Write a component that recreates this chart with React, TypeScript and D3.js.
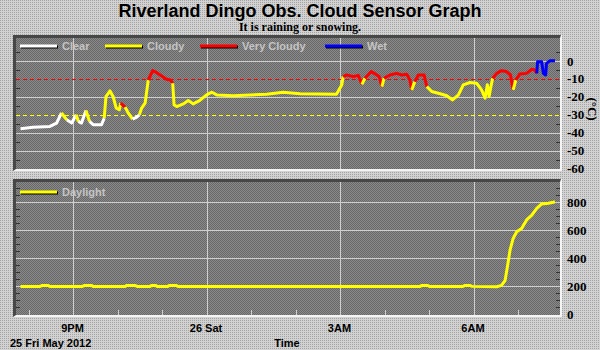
import React from 'react';
import * as d3 from 'd3';

// ---- Data (hours since 25 May 2012 00:00) ----
const skyTimes = [
  19.81, 20.09, 20.47, 20.62, 20.73, 20.85, 20.96, 21.06, 21.11, 21.18, 21.28, 21.36, 21.44, 21.63,
  21.69, 21.73, 21.82, 21.89, 21.96, 22.03, 22.06, 22.16, 22.23, 22.33, 22.42, 22.48, 22.53, 22.61,
  22.64, 22.68, 22.78, 22.87, 22.98, 23.09, 23.18, 23.23, 23.26, 23.32, 23.47, 23.58, 23.69, 23.84,
  23.99, 24.11, 24.22, 24.59, 24.97, 25.34, 25.71, 26.09, 26.91, 27.03, 27.06, 27.14, 27.29, 27.40,
  27.48, 27.55, 27.69, 27.78, 27.87, 27.93, 27.98, 28.11, 28.26, 28.38, 28.49, 28.56, 28.60, 28.67,
  28.75, 28.88, 28.94, 29.05, 29.24, 29.39, 29.52, 29.65, 29.76, 29.91, 30.06, 30.17, 30.25, 30.30,
  30.34, 30.38, 30.42, 30.51, 30.62, 30.73, 30.82, 30.88, 30.94, 31.03, 31.18, 31.30, 31.37, 31.41,
  31.43, 31.52, 31.56, 31.61, 31.63, 31.71, 31.82,
];
const skyTemps = [
  -37.8, -37, -36.5, -34.6, -29, -32.8, -34.6, -30, -33.7, -34.6, -27.6, -33.7, -35.5, -35.5,
  -31.9, -19.8, -16.7, -19.8, -26.3, -27.2, -23.5, -25.7, -29, -32.4, -31.3, -30, -26.3, -23.5,
  -17.9, -10.6, -5.4, -6.5, -8.3, -10.2, -10.6, -12.4, -24.4, -25.4, -23.9, -22, -23.9, -22,
  -18.9, -17.4, -18.9, -19.4, -18.9, -18.5, -17.4, -18.3, -18.5, -13.3, -8.7, -7.8, -8.7, -8,
  -13, -9.6, -5.9, -7.2, -8.7, -14.3, -9.6, -7.8, -6.9, -7.8, -7.4, -10.6, -16.1, -11.5,
  -7.8, -7.8, -14.3, -17, -18.3, -19.4, -21.7, -18.9, -13.3, -12, -12.4, -16.1, -20.7, -13.3,
  -19.8, -14.3, -9.6, -6.9, -5.4, -5.9, -7.8, -16.1, -10.6, -7.2, -6.9, -4.6, -5, -6.9,
  -0.4, -0.4, -6.9, -7.8, -1.3, 0.2, 0.2,
];
// C = Clear, Y = Cloudy, R = Very Cloudy, W = Wet
const skyStates = [
  'C', 'C', 'C', 'C', 'Y', 'C', 'C', 'Y', 'C', 'C', 'Y', 'C', 'C', 'C',
  'Y', 'Y', 'Y', 'Y', 'Y', 'Y', 'R', 'Y', 'Y', 'C', 'C', 'Y', 'Y', 'Y',
  'Y', 'R', 'R', 'R', 'R', 'R', 'R', 'Y', 'Y', 'Y', 'Y', 'Y', 'Y', 'Y',
  'Y', 'Y', 'Y', 'Y', 'Y', 'Y', 'Y', 'Y', 'Y', 'Y', 'R', 'R', 'R', 'R',
  'Y', 'R', 'R', 'R', 'R', 'Y', 'R', 'R', 'R', 'R', 'R', 'R', 'Y', 'R',
  'R', 'R', 'Y', 'Y', 'Y', 'Y', 'Y', 'Y', 'Y', 'Y', 'Y', 'Y', 'Y', 'Y',
  'Y', 'Y', 'R', 'R', 'R', 'R', 'R', 'Y', 'R', 'R', 'R', 'R', 'R', 'W',
  'W', 'W', 'W', 'W', 'W', 'W', 'W',
];

const dayTimes = [
  19.81, 20.25, 20.3, 20.42, 20.47, 21.2, 21.25, 21.4, 21.44, 22.16, 22.2, 22.38, 22.43,
  22.72, 22.76, 22.84, 22.88, 23.12, 23.16, 23.3, 23.35, 28.79, 28.83, 28.95, 29.0,
  29.75, 29.8, 29.9, 29.96, 30.51, 30.62, 30.70, 30.75, 30.81, 30.88, 30.96, 31.07,
  31.18, 31.22, 31.30, 31.41, 31.52, 31.67, 31.78, 31.82,
];
const dayValues = [
  200, 200, 207, 207, 200, 200, 207, 207, 200, 200, 207, 207, 200,
  200, 207, 207, 200, 200, 207, 207, 200, 200, 207, 207, 200,
  200, 207, 207, 200, 197, 207, 243, 338, 457, 541, 588, 612,
  671, 684, 707, 755, 786, 791, 798, 802,
];

const xTickHours = [21, 24, 27, 30];
const xTickLabels = ['9PM', '26 Sat', '3AM', '6AM'];
const tempTicks = [0, -10, -20, -30, -40, -50, -60];
const dayTicks = [0, 200, 400, 600, 800];
const legendStates = ['C', 'Y', 'R', 'W'];
const legendLabels = ['Clear', 'Cloudy', 'Very Cloudy', 'Wet'];
const dayLegendLabel = 'Daylight';
const titleText = 'Riverland Dingo Obs. Cloud Sensor Graph';
const subtitleText = 'It is raining or snowing.';
const dateText = '25 Fri May 2012';
const xAxisTitle = 'Time';
const yUnit = '(°C)';

const stateColor: Record<string, string> = { C: '#ffffff', Y: '#ffff00', R: '#ff0000', W: '#0000ff' };

const SANS = "'Liberation Sans', Arial, Helvetica, sans-serif";
const SERIF = "'Liberation Serif', 'Times New Roman', serif";

const L = 16, R = 560;
const T1 = 38, B1 = 169;
const T2 = 182, B2 = 314.5;

function Bevel({ x0, y0, x1, y1 }: { x0: number; y0: number; x1: number; y1: number }) {
  // outer box x0..x1, y0..y1; inner box inset 3 at top/left and 2 at right/bottom
  return (
    <g>
      <rect x={x0} y={y0} width={x1 - x0} height={y1 - y0} fill="#f4f4f4" />
      <polygon
        points={`${x0},${y0} ${x1 - 1},${y0} ${x1 - 2},${y0 + 3} ${x0 + 3},${y0 + 3} ${x0 + 3},${y1 - 2} ${x0},${y1}`}
        fill="#474747"
      />
    </g>
  );
}

export default function App() {
  const x = d3.scaleLinear().domain([19.708, 31.933]).range([L, R]);
  const yT = d3.scaleLinear().domain([-60, 0]).range([168.6, 61]);
  const yD = d3.scaleLinear().domain([0, 800]).range([B2, 202]);

  const pts = skyTimes.map((t, i) => ({ t, v: skyTemps[i], s: skyStates[i] }));
  const runs: { s: string; pts: typeof pts }[] = [];
  for (let i = 0; i < pts.length - 1; i++) {
    const s = pts[i].s;
    if (!runs.length || runs[runs.length - 1].s !== s) runs.push({ s, pts: [pts[i]] });
    runs[runs.length - 1].pts.push(pts[i + 1]);
  }
  const skyLine = d3.line<{ t: number; v: number }>().x(d => x(d.t)).y(d => yT(d.v));
  const dayLine = d3.line<number>().x((_, i) => x(dayTimes[i])).y(d => yD(d));

  const tempMinor = d3.range(5, -60, -10);
  const dayMinor = d3.range(50, 950, 50).filter(v => v % 200 !== 0);
  const hourTicks = d3.range(20, 32, 1);
  const legendX = [20, 105, 200, 325];

  return (
    <svg width={600} height={350} style={{ position: 'absolute', left: 0, top: 0, display: 'block' }}>
      <defs>
        <pattern id="pageBg" width={2} height={2} patternUnits="userSpaceOnUse">
          <rect width={2} height={2} fill="#d2d2d2" />
          <rect width={1} height={1} fill="#a4a4a4" />
        </pattern>
        <pattern id="plotBg" width={2} height={2} patternUnits="userSpaceOnUse">
          <rect width={2} height={2} fill="#8a8a8a" />
          <rect width={1} height={1} fill="#686868" />
          <rect x={1} y={1} width={1} height={1} fill="#686868" />
        </pattern>
        <clipPath id="clipTop"><rect x={L} y={T1} width={R - L} height={B1 - T1} /></clipPath>
        <clipPath id="clipBot"><rect x={L} y={T2} width={R - L} height={B2 - T2 + 1} /></clipPath>
      </defs>
      <rect width={600} height={350} fill="url(#pageBg)" />

      <text x={300} y={17} textAnchor="middle" fontFamily={SANS} fontWeight="bold" fontSize={18} fill="#000">
        {titleText}
      </text>
      <text x={300} y={31} textAnchor="middle" fontFamily={SERIF} fontWeight="bold" fontSize={12} fill="#000">
        {subtitleText}
      </text>

      {/* Top panel */}
      <Bevel x0={13} y0={35} x1={562} y1={171} />
      <rect x={L} y={T1} width={R - L} height={B1 - T1} fill="url(#plotBg)" />
      <g shapeRendering="crispEdges">
        {tempMinor.map(v => (
          <g key={v}>
            <line x1={L} x2={L + 4} y1={Math.round(yT(v)) + 0.5} y2={Math.round(yT(v)) + 0.5} stroke="#333" />
            <line x1={R - 4} x2={R} y1={Math.round(yT(v)) + 0.5} y2={Math.round(yT(v)) + 0.5} stroke="#333" />
          </g>
        ))}
        {tempTicks.filter(v => v !== -10 && v !== -30 && v !== -60).map(v => (
          <line key={v} x1={L} x2={R} y1={Math.round(yT(v)) + 0.5} y2={Math.round(yT(v)) + 0.5} stroke="#cfcfcf" />
        ))}
        {xTickHours.map(h => (
          <line key={h} x1={Math.round(x(h)) + 0.5} x2={Math.round(x(h)) + 0.5} y1={T1} y2={B1} stroke="#cfcfcf" />
        ))}
        <line x1={L} x2={R} y1={Math.round(yT(-10)) + 0.5} y2={Math.round(yT(-10)) + 0.5} stroke="#ff0000" strokeDasharray="4,3" />
        <line x1={L} x2={R} y1={Math.round(yT(-30)) + 0.5} y2={Math.round(yT(-30)) + 0.5} stroke="#ffff00" strokeDasharray="4,3" />
      </g>
      <g clipPath="url(#clipTop)">
        {runs.map((r, i) => (
          <path key={i} d={skyLine(r.pts) || ''} fill="none" stroke={stateColor[r.s]} strokeWidth={3} strokeLinejoin="round" />
        ))}
      </g>
      {legendStates.map((s, i) => (
        <g key={s}>
          <line x1={legendX[i] + 1} x2={legendX[i] + 38} y1={47} y2={47} stroke="#000" strokeWidth={3} />
          <line x1={legendX[i]} x2={legendX[i] + 37} y1={46} y2={46} stroke={stateColor[s]} strokeWidth={3} />
          <text x={legendX[i] + 42} y={50} fontFamily={SANS} fontWeight="bold" fontSize={11} fill="#c4c4c4">
            {legendLabels[i]}
          </text>
        </g>
      ))}
      {tempTicks.map(v => (
        <text key={v} x={567} y={yT(v) + 4.5} fontFamily={SERIF} fontWeight="bold" fontSize={13} fill="#000">
          {v}
        </text>
      ))}
      <text transform="translate(592,109) rotate(90)" textAnchor="middle" dy={4} fontFamily={SERIF} fontWeight="bold" fontSize={13} fill="#000">
        {yUnit}
      </text>

      {/* Bottom panel */}
      <Bevel x0={13} y0={179} x1={562} y1={317} />
      <rect x={L} y={T2} width={R - L} height={B2 - T2 + 0.5} fill="url(#plotBg)" />
      <g shapeRendering="crispEdges">
        {dayMinor.map(v => (
          <g key={v}>
            <line x1={L} x2={L + 4} y1={Math.round(yD(v)) + 0.5} y2={Math.round(yD(v)) + 0.5} stroke="#333" />
            <line x1={R - 4} x2={R} y1={Math.round(yD(v)) + 0.5} y2={Math.round(yD(v)) + 0.5} stroke="#333" />
          </g>
        ))}
        {dayTicks.filter(v => v !== 0).map(v => (
          <line key={v} x1={L} x2={R} y1={Math.round(yD(v)) + 0.5} y2={Math.round(yD(v)) + 0.5} stroke="#cfcfcf" />
        ))}
        {xTickHours.map(h => (
          <line key={h} x1={Math.round(x(h)) + 0.5} x2={Math.round(x(h)) + 0.5} y1={T2} y2={B2} stroke="#cfcfcf" />
        ))}
        {hourTicks.map(h => (
          <line key={h} x1={Math.round(x(h)) + 0.5} x2={Math.round(x(h)) + 0.5} y1={B2 - 5} y2={B2} stroke="#cfcfcf" />
        ))}
      </g>
      <g clipPath="url(#clipBot)">
        <path d={dayLine(dayValues) || ''} fill="none" stroke="#ffff00" strokeWidth={3} strokeLinejoin="round" />
      </g>
      <line x1={21} x2={58} y1={193} y2={193} stroke="#000" strokeWidth={3} />
      <line x1={20} x2={57} y1={192} y2={192} stroke="#ffff00" strokeWidth={3} />
      <text x={62} y={196} fontFamily={SANS} fontWeight="bold" fontSize={11} fill="#c4c4c4">{dayLegendLabel}</text>
      {dayTicks.map(v => (
        <text key={v} x={567} y={yD(v) + 4.5} fontFamily={SERIF} fontWeight="bold" fontSize={13} fill="#000">
          {v}
        </text>
      ))}

      {/* X axis */}
      {xTickHours.map((h, i) => (
        <text key={h} x={x(h) - 1} y={331.5} textAnchor="middle" fontFamily={SANS} fontWeight="bold" fontSize={11} fill="#000">
          {xTickLabels[i]}
        </text>
      ))}
      <text x={10} y={346.5} fontFamily={SANS} fontWeight="bold" fontSize={11} fill="#000">{dateText}</text>
      <text x={287} y={346.5} textAnchor="middle" fontFamily={SANS} fontWeight="bold" fontSize={11} fill="#000">{xAxisTitle}</text>
    </svg>
  );
}
